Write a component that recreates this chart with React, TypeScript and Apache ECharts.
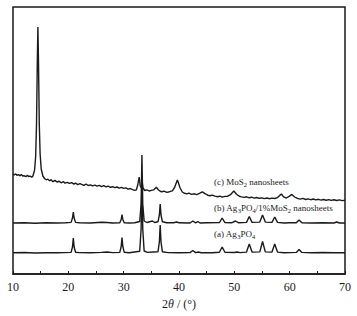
import React, { useEffect, useRef } from "react";
import * as echarts from "echarts";

const xTicks = [10, 20, 30, 40, 50, 60, 70];

// (c) MoS2 nanosheets — [2θ, intensity (a.u., offset)]
const seriesC: number[][] = [
  [10.0, 100], [10.2, 99], [10.5, 100.2], [10.7, 98.6], [11.0, 99.4], [11.3, 98.1], [11.5, 99.6], [11.8, 97.8],
  [12.0, 98.4], [12.3, 97.2], [12.6, 98.8], [12.8, 97.5], [13.1, 97.9], [13.4, 96.8], [13.6, 98], [13.9, 104],
  [14.1, 118], [14.25, 150], [14.4, 215], [14.5, 247], [14.6, 215], [14.75, 150], [14.9, 120], [15.1, 105],
  [15.4, 98], [15.7, 95.5], [16.0, 94.2], [16.3, 94.9], [16.6, 93.1], [16.9, 94.4], [17.2, 92.3], [17.6, 93.6],
  [18.0, 91.8], [18.3, 92.9], [18.7, 91.2], [19.1, 92.4], [19.4, 90.8], [19.8, 91.7], [20.2, 90.6], [20.6, 91.4],
  [21, 89.9], [21.3, 90.8], [21.7, 89.4], [22.1, 90.3], [22.4, 89.6], [22.8, 88.7], [23.2, 89.9], [23.6, 88.5],
  [24, 89.2], [24.4, 88.1], [24.8, 88.9], [25.2, 87.9], [25.6, 88.6], [26, 87.4], [26.4, 88.3], [26.8, 87.1],
  [27.2, 87.8], [27.6, 86.7], [28, 87.3], [28.4, 86.4], [28.8, 87], [29.2, 85.9], [29.6, 86.6], [30, 85.6],
  [30.4, 86.1], [30.8, 84.9], [31.2, 85.5], [31.6, 84.3], [32, 83.6], [32.3, 84.2], [32.55, 89], [32.8, 97],
  [33.0, 88], [33.2, 86], [33.35, 92], [33.5, 86], [33.8, 83.5], [34.2, 84.2], [34.6, 83], [35.0, 83.6],
  [35.4, 84.1], [35.9, 86.8], [36.3, 84], [36.8, 82.2], [37.3, 82.8], [37.8, 81.6], [38.3, 82.3], [38.8, 83.2],
  [39.2, 86.5], [39.5, 91], [39.7, 94], [39.9, 91], [40.2, 86], [40.6, 82], [41, 80.7], [41.4, 80.1],
  [41.8, 80.8], [42.3, 79.6], [42.8, 80.2], [43.2, 79.4], [43.7, 80.6], [44.2, 82.2], [44.7, 80.3], [45.2, 78.8],
  [45.6, 78.3], [46, 78.9], [46.5, 77.9], [47, 77.3], [47.4, 77.9], [47.8, 76.9], [48.3, 77.6], [48.8, 77.8],
  [49.3, 79.3], [49.9, 83], [50.4, 79.8], [50.9, 77.7], [51.3, 77.1], [51.8, 76.6], [52.2, 77.2], [52.7, 76.2],
  [53.1, 76.8], [53.6, 75.9], [54, 76.5], [54.5, 75.7], [55, 76.1], [55.4, 75.4], [55.9, 76], [56.3, 75.3],
  [56.8, 75.9], [57.3, 75.5], [57.8, 76.4], [58.2, 78.6], [58.5, 80], [58.9, 77.1], [59.4, 76], [59.9, 77.6],
  [60.4, 79.6], [60.9, 77], [61.4, 75.6], [61.9, 74.9], [62.4, 75.6], [62.9, 74.5], [63.3, 75.1], [63.8, 74.3],
  [64.3, 75], [64.7, 74.1], [65.2, 74.7], [65.7, 73.9], [66.1, 74.5], [66.6, 73.8], [67.1, 74.4], [67.5, 73.6],
  [68, 74.2], [68.5, 73.5], [69, 74.1], [69.5, 73.4], [70, 73.8],
];

// (b) Ag3PO4/1%MoS2 nanosheets
const seriesB: number[][] = [
  [10, 51], [12, 51.3], [14, 50.8], [16, 51.2], [18, 51], [19.5, 51.3], [20.5, 51.6], [20.75, 56], [20.9, 62],
  [21.05, 56], [21.3, 51.6], [22, 51.2], [24, 51], [26, 51.8], [27, 51.5], [28, 51], [29.3, 51.3], [29.55, 54.5],
  [29.7, 59.5], [29.85, 54.5], [30.1, 51.3], [31, 51], [32, 51.2], [32.9, 52.5], [33.15, 70], [33.3, 119],
  [33.45, 70], [33.7, 53], [34.2, 51.5], [35.2, 53], [35.6, 51.5], [36.2, 52.2], [36.45, 59], [36.6, 70],
  [36.75, 59], [37.0, 52.2], [37.8, 51.2], [39, 51.2], [39.6, 52], [40, 51.2], [42, 51], [42.5, 53], [43, 51.2],
  [43.4, 52.5], [43.8, 51], [45, 51.2], [47.3, 51.4], [47.8, 56], [48.3, 51.4], [49.5, 51.2], [50.2, 53],
  [50.8, 51.2], [52.2, 51.6], [52.7, 57.5], [53.2, 51.6], [54.6, 51.9], [55.1, 59], [55.6, 51.9], [56.8, 51.6],
  [57.3, 57], [57.8, 51.6], [59, 51], [60, 51.3], [61.2, 51.2], [61.7, 54], [62.2, 51.2], [64, 51], [66, 51.2],
  [68, 51], [68.5, 52], [69, 51], [70, 51],
];

// (a) Ag3PO4
const seriesA: number[][] = [
  [10, 21.3], [12, 21.5], [14, 21], [16, 21.3], [18, 21.2], [20.5, 21.6], [20.75, 27], [20.9, 36], [21.05, 27],
  [21.3, 21.7], [22, 21.4], [24, 21.2], [26, 21.6], [27, 22], [28, 21.4], [29.3, 21.6], [29.55, 27.5],
  [29.7, 36.5], [29.85, 27.5], [30.1, 21.7], [31, 21.3], [32.9, 22.8], [33.15, 45], [33.3, 91], [33.45, 45],
  [33.7, 23], [34.3, 21.6], [35.3, 22], [36.2, 22.2], [36.45, 32], [36.6, 49], [36.75, 32], [37.0, 22.2],
  [38, 21.4], [40, 21.3], [42, 21.4], [42.5, 23.5], [43, 21.4], [43.5, 22], [44, 21.3], [46, 21.3],
  [47.3, 21.7], [47.8, 27], [48.3, 21.7], [50, 21.5], [50.5, 22], [51, 21.4], [52.2, 21.9], [52.7, 30],
  [53.2, 21.9], [54.6, 22.1], [55.1, 32.5], [55.6, 22.1], [56.8, 21.9], [57.3, 30], [57.8, 21.9], [59, 21.3],
  [61.2, 21.6], [61.7, 24.5], [62.2, 21.6], [64, 21.3], [66, 21.5], [68, 21.3], [70, 21.3],
];

const labelC = "{t|(c) MoS}{s|2}{t| nanosheets}";
const labelB = "{t|(b) Ag}{s|3}{t|PO}{s|4}{t|/1%MoS}{s|2}{t| nanosheets}";
const labelA = "{t|(a) Ag}{s|3}{t|PO}{s|4}";

const FONT = "'Liberation Serif', 'Times New Roman', serif";
const INK = "#1a1a1a";

const richText = {
  t: { fontSize: 9, fontFamily: FONT, fill: INK, color: INK },
  s: { fontSize: 6.5, fontFamily: FONT, fill: INK, color: INK, padding: [5, 0, 0, 0] },
};

export default function App() {
  const ref = useRef<HTMLDivElement>(null);
  useEffect(() => {
    if (!ref.current) return;
    const chart = echarts.init(ref.current, undefined, { renderer: "svg" });
    const line = (data: number[][]) => ({
      type: "line",
      data,
      showSymbol: false,
      symbol: "none",
      lineStyle: { color: INK, width: 1.4 },
      silent: true,
    });
    chart.setOption({
      animation: false,
      backgroundColor: "#ffffff",
      grid: {
        left: 13,
        right: 12,
        top: 7,
        bottom: 42,
        show: true,
        borderColor: INK,
        borderWidth: 1.5,
        containLabel: false,
      },
      xAxis: {
        type: "value",
        min: xTicks[0],
        max: xTicks[xTicks.length - 1],
        interval: 5,
        name: "{n|2}{i|θ}{n| / (°)}",
        nameLocation: "middle",
        nameGap: 22,
        nameTextStyle: {
          rich: {
            n: { fontSize: 12, fontFamily: FONT, color: INK },
            i: { fontSize: 12, fontFamily: FONT, fontStyle: "italic", color: INK },
          },
        },
        axisLine: { show: true, onZero: false, lineStyle: { color: INK, width: 1.5 } },
        axisTick: { show: true, inside: true, length: 3, lineStyle: { color: INK, width: 1 } },
        axisLabel: {
          margin: 7,
          fontSize: 12,
          fontFamily: FONT,
          color: INK,
          formatter: (v: number) => (xTicks.includes(v) ? String(v) : ""),
        },
        splitLine: { show: false },
      },
      yAxis: {
        type: "value",
        min: 0,
        max: 267,
        show: false,
        splitLine: { show: false },
      },
      series: [line(seriesC), line(seriesB), line(seriesA)],
      graphic: [
        { type: "text", left: 214, top: 177, style: { text: labelC, rich: richText, font: `9px ${FONT}` } },
        { type: "text", left: 214, top: 203, style: { text: labelB, rich: richText, font: `9px ${FONT}` } },
        { type: "text", left: 214, top: 229, style: { text: labelA, rich: richText, font: `9px ${FONT}` } },
      ],
    });
    return () => chart.dispose();
  }, []);
  return (
    <div
      ref={ref}
      style={{ position: "fixed", left: 0, top: 0, width: 357, height: 316, background: "#fff" }}
    />
  );
}
